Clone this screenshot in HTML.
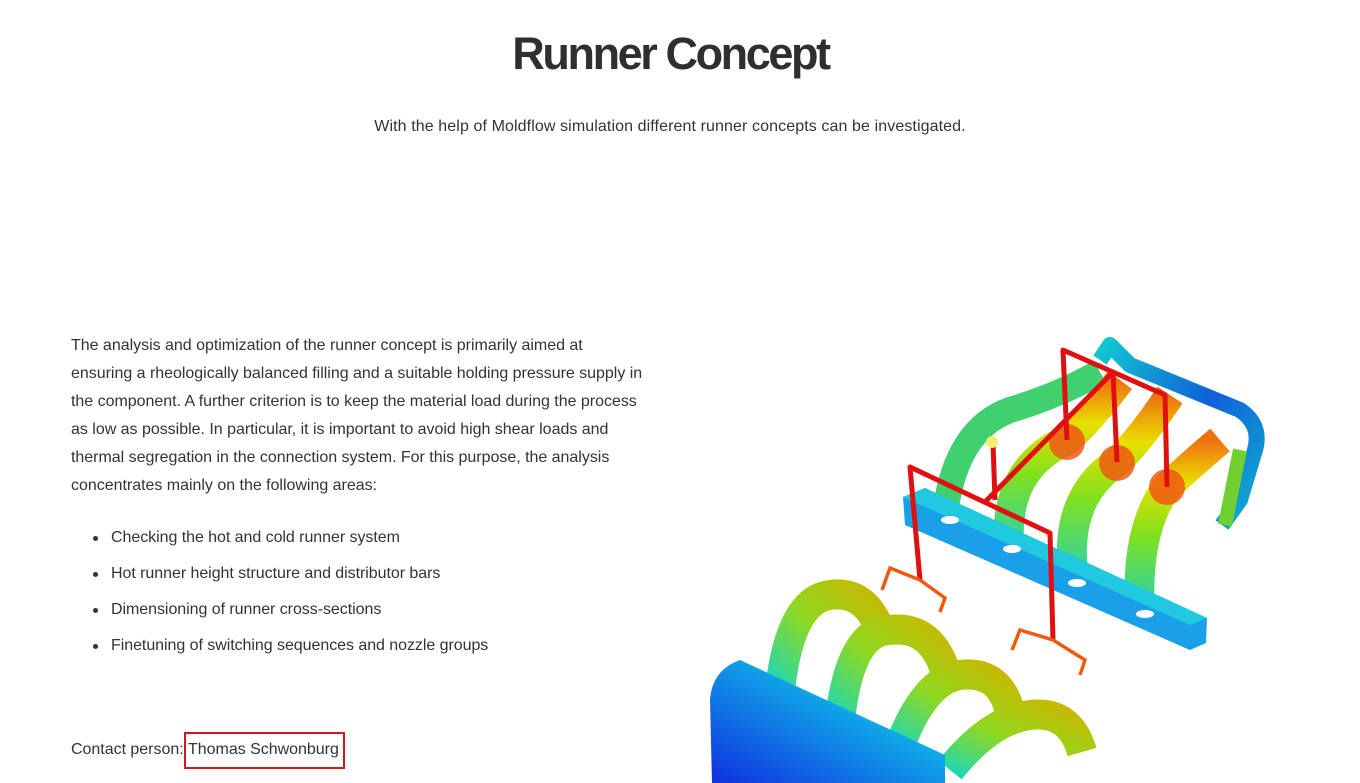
<!DOCTYPE html>
<html><head><meta charset="utf-8"><style>
body{margin:0;width:1360px;height:783px;background:#fff;overflow:hidden;position:relative;font-family:"Liberation Sans",sans-serif;color:#333}
.t{position:absolute;white-space:nowrap}
h1{position:absolute;left:0;width:1341px;top:28px;margin:0;text-align:center;font-size:45px;font-weight:bold;letter-spacing:-2.4px;color:#2f2f2f}
.sub{left:0;width:1340px;text-align:center;top:118px;font-size:16px;letter-spacing:0.1px}
.p{left:71px;font-size:16px;letter-spacing:-0.02px}
.li{left:111px;font-size:16px;letter-spacing:-0.05px}
.dot{position:absolute;left:93px;width:5px;height:5px;border-radius:50%;background:#333}
</style></head><body>
<h1>Runner Concept</h1>
<div class="t sub">With the help of Moldflow simulation different runner concepts can be investigated.</div>
<div class="t p" style="top:337px">The analysis and optimization of the runner concept is primarily aimed at</div>
<div class="t p" style="top:365px">ensuring a rheologically balanced filling and a suitable holding pressure supply in</div>
<div class="t p" style="top:393px">the component. A further criterion is to keep the material load during the process</div>
<div class="t p" style="top:421px">as low as possible. In particular, it is important to avoid high shear loads and</div>
<div class="t p" style="top:449px">thermal segregation in the connection system. For this purpose, the analysis</div>
<div class="t p" style="top:477px">concentrates mainly on the following areas:</div>
<div class="dot" style="top:536px"></div><div class="t li" style="top:529px">Checking the hot and cold runner system</div>
<div class="dot" style="top:572px"></div><div class="t li" style="top:565px">Hot runner height structure and distributor bars</div>
<div class="dot" style="top:608px"></div><div class="t li" style="top:601px">Dimensioning of runner cross-sections</div>
<div class="dot" style="top:644px"></div><div class="t li" style="top:637px">Finetuning of switching sequences and nozzle groups</div>
<div class="t p" style="top:741px">Contact person:</div>
<div style="position:absolute;left:184px;top:732px;width:161px;height:37px;border:2px solid #d8141c;box-sizing:border-box"></div>
<div class="t p" style="top:741px;left:188px">Thomas Schwonburg</div>
<svg style="position:absolute;left:0;top:0" width="1360" height="783">
<defs>
<linearGradient id="tube" x1="0" y1="1" x2="0" y2="0"><stop offset="0" stop-color="#20d0c0"/><stop offset=".45" stop-color="#7fe020"/><stop offset=".75" stop-color="#e8e000"/><stop offset="1" stop-color="#f07010"/></linearGradient>
<linearGradient id="low" x1="0" y1="1" x2="1" y2="0"><stop offset="0" stop-color="#20d8b0"/><stop offset=".5" stop-color="#90d820"/><stop offset="1" stop-color="#c8b800"/></linearGradient>
<linearGradient id="blk" x1="0" y1="1" x2="1" y2="0"><stop offset="0" stop-color="#1030e0"/><stop offset=".6" stop-color="#10a8e8"/><stop offset="1" stop-color="#20e0e0"/></linearGradient>
<linearGradient id="band" x1="0" y1="0" x2="1" y2="1"><stop offset="0" stop-color="#10c8d0"/><stop offset=".5" stop-color="#1060d8"/><stop offset="1" stop-color="#10b0d0"/></linearGradient>
</defs>
<path d="M1100,360 L1110,345 L1130,365 L1240,410 Q1262,425 1255,450 L1240,500 L1222,525" fill="none" stroke="url(#band)" stroke-width="16" stroke-linejoin="round"/>
<path d="M1240,450 L1225,525" stroke="#70d030" stroke-width="14"/>
<path d="M945,515 Q955,430 1010,410 Q1060,395 1100,372" fill="none" stroke="#40d070" stroke-width="26"/>
<path d="M1010,555 Q1000,470 1067,440 Q1090,420 1120,380" fill="none" stroke="url(#tube)" stroke-width="30"/>
<path d="M1075,585 Q1060,500 1117,462 Q1140,440 1170,395" fill="none" stroke="url(#tube)" stroke-width="30"/>
<path d="M1140,615 Q1135,530 1167,487 Q1185,470 1220,440" fill="none" stroke="url(#tube)" stroke-width="30"/>
<circle cx="1067" cy="442" r="18" fill="#f05010" opacity=".8"/>
<circle cx="1117" cy="463" r="18" fill="#f05010" opacity=".8"/>
<circle cx="1167" cy="487" r="18" fill="#f05010" opacity=".8"/>
<polygon points="903,497 925,488 1207,618 1206,643 1190,650 905,525" fill="#1aa0e8"/>
<polygon points="903,497 925,488 1207,618 1190,625" fill="#20c8e0"/>
<g fill="#fff"><ellipse cx="950" cy="520" rx="9" ry="4"/><ellipse cx="1012" cy="549" rx="9" ry="4"/><ellipse cx="1077" cy="583" rx="9" ry="4"/><ellipse cx="1145" cy="614" rx="9" ry="4"/></g>
<path d="M780,690 Q790,600 830,595 Q865,590 880,630" fill="none" stroke="url(#low)" stroke-width="30"/>
<path d="M840,720 Q850,630 890,630 Q930,625 945,670" fill="none" stroke="url(#low)" stroke-width="30"/>
<path d="M900,745 Q925,680 960,675 Q1000,670 1010,712" fill="none" stroke="url(#low)" stroke-width="30"/>
<path d="M950,770 Q990,720 1030,715 Q1070,710 1082,752" fill="none" stroke="url(#low)" stroke-width="30"/>
<path d="M740,660 L945,755 L945,783 L712,783 L710,700 Q712,670 740,660Z" fill="url(#blk)"/>
<g fill="none" stroke="#e01010" stroke-width="5" stroke-linejoin="round">
<path d="M1067,440 L1063,350 L1165,395 L1167,487"/>
<path d="M1117,462 L1113,372 L985,502"/>
<path d="M920,580 L910,467 L1050,533 L1053,640"/>
<path d="M995,500 L993,443"/>
</g>
<circle cx="992" cy="442" r="6" fill="#f0f070"/>
<g fill="none" stroke="#f05a10" stroke-width="3.5">
<path d="M920,580 L945,598 L940,612"/><path d="M920,580 L890,568 L882,590"/>
<path d="M1053,640 L1085,660 L1080,675"/><path d="M1053,640 L1020,630 L1012,650"/>
</g>
</svg>
</body></html>
